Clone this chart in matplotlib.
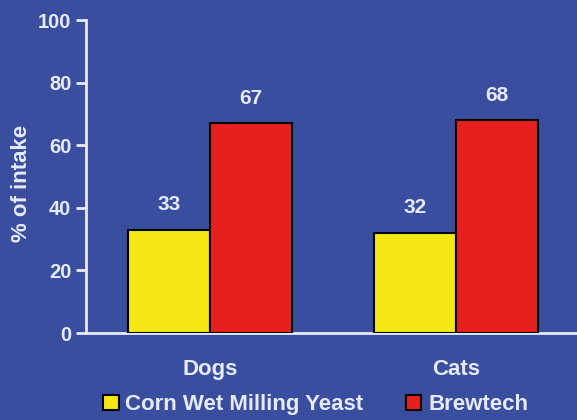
import numpy as np
import matplotlib.pyplot as plt

# values
groups = ["Dogs", "Cats"]
corn_yeast = [33, 32]
brewtech = [67, 68]
series_names = ["Corn Wet Milling Yeast", "Brewtech"]

bg = "#3a4e9f"
txt = "#e6eaf4"
plt.rcParams["font.family"] = ["Liberation Sans", "DejaVu Sans"]
plt.rcParams["font.weight"] = "bold"

fig = plt.figure(figsize=(5.77, 4.20), dpi=100, facecolor=bg)
ax = fig.add_axes([0.149, 0.207, 0.851, 0.745], facecolor=bg)

x = np.arange(len(groups))
w = 0.333
bars1 = ax.bar(x - w / 2, corn_yeast, w, color="#f4e713", edgecolor="black", linewidth=1.5,
               label=series_names[0], zorder=3)
bars2 = ax.bar(x + w / 2, brewtech, w, color="#e81f1f", edgecolor="black", linewidth=1.5,
               label=series_names[1], zorder=3)

for bars in (bars1, bars2):
    for b in bars:
        ax.annotate(f"{int(b.get_height())}", (b.get_x() + b.get_width() / 2, b.get_height()),
                    xytext=(0, 18), textcoords="offset points", ha="center", va="center",
                    color=txt, fontsize=15, fontweight="bold")

ax.set_xlim(-0.504, 1.49)
ax.set_ylim(0, 100)
ax.set_yticks([0, 20, 40, 60, 80, 100])
ax.set_xticks(x)
ax.set_xticklabels(groups)
ax.set_ylabel("% of intake", color=txt, fontsize=16, fontweight="bold")
ax.yaxis.set_label_coords(-0.109, 0.479)

for s in ["top", "right"]:
    ax.spines[s].set_visible(False)
for s in ["left", "bottom"]:
    ax.spines[s].set_color(txt)
    ax.spines[s].set_linewidth(2)
ax.tick_params(axis="y", colors=txt, labelsize=14.5, length=7, width=2, direction="out")
ax.tick_params(axis="x", colors=txt, labelsize=16, length=0, pad=19)

leg = fig.legend(loc="center", bbox_to_anchor=(0.547, 0.036), ncol=2, frameon=False,
                 fontsize=16, handlelength=0.7, handleheight=0.7, handletextpad=0.3,
                 columnspacing=1.9, borderaxespad=0, borderpad=0)
for t in leg.get_texts():
    t.set_color(txt)

fig.savefig("out.png", dpi=100, facecolor=bg)
